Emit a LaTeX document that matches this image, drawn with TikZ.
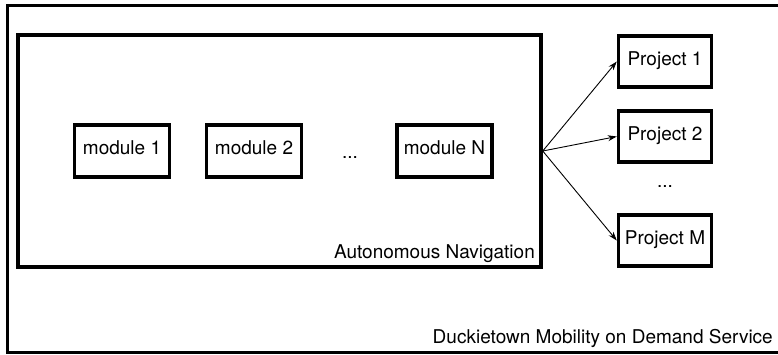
\documentclass[tikz,border=0pt]{standalone}
\usepackage{fontspec}
\setmainfont{TeX Gyre Heros}
\usetikzlibrary{positioning, arrows.meta}

\begin{document}
\begin{tikzpicture}[x=1pt, y=-1pt,
    every node/.style={font=\fontsize{19}{22}\selectfont},
    frame/.style={draw, line width=3.5pt, inner sep=0pt},
    box/.style={draw, line width=3.5pt, minimum width=95pt, minimum height=52pt, text height=0.72em, text depth=0pt},
    arrow/.style={-{Stealth[length=9pt, width=6pt]}, line width=0.9pt}]
    \useasboundingbox (0,0) rectangle (778,354);

    % frames
    \node[frame, line width=3pt, minimum width=790pt, minimum height=346.5pt] (service) at (402,178.75) {};
    \node[frame, minimum width=523pt, minimum height=232pt] (nav) at (279.5,151) {};

    % modules
    \foreach \name/\x/\txt in {m1/122/module 1, m2/254/module 2, mN/444.5/module N}
    {
        \node[box] (\name) at (\x,151) {\txt};
    }
    \node[anchor=base] (mdots) at (350,158) {...};

    % projects
    \foreach \name/\y/\txt in {p1/61.5/Project 1, p2/136.5/Project 2, pM/240.5/Project M}
    {
        \node[box, minimum width=93pt, minimum height=51pt] (\name) at (665,\y) {\txt};
    }
    \node[anchor=base] (pdots) at (665,187) {...};

    % arrows
    \foreach \p in {p1,p2,pM}
    {
        \draw[arrow] (nav.east) -- (\p.west);
    }

    % labels
    \node[anchor=base east, inner sep=0pt] (navlabel) at (535,258) {Autonomous Navigation};
    \node[anchor=base east, inner sep=0pt] (servicelabel) at (773,343) {Duckietown Mobility on Demand Service};
\end{tikzpicture}
\end{document}
